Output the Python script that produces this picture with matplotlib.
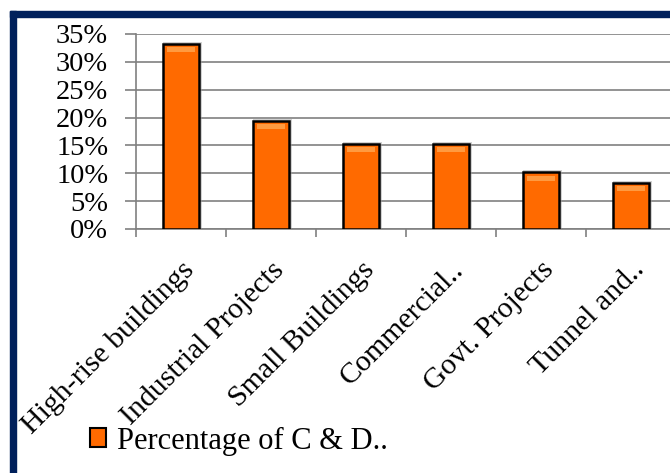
import matplotlib.pyplot as plt
import matplotlib.patches as mpatches
import numpy as np

plt.rcParams['font.family'] = ['Liberation Serif', 'DejaVu Serif']

# data
categories = ['High-rise buildings', 'Industrial Projects', 'Small Buildings',
              'Commercial..', 'Govt. Projects', 'Tunnel and..']
values = [33.2, 19.4, 15.3, 15.3, 10.2, 8.3]
yticks = [0, 5, 10, 15, 20, 25, 30, 35]
legend_label = 'Percentage of C & D..'

W, H = 670, 473
fig = plt.figure(figsize=(6.7, 4.73), dpi=100)

# navy frame on left and top
fig.patches.append(mpatches.Rectangle((10 / W, -0.1), 6 / W, 1 - 11 / H + 0.1,
                                      transform=fig.transFigure, color='#00205B', zorder=0))
fig.patches.append(mpatches.Rectangle((10 / W, 1 - 17 / H), 1.0, 6 / H,
                                      transform=fig.transFigure, color='#00205B', zorder=0))

# axes: left 136px, right 676px, bottom y=229, top y=34
ax = fig.add_axes([136 / W, 1 - 229 / H, 540 / W, 195 / H])
x = np.arange(len(categories))
# soft shadow behind bars
ax.bar(x + 0.015, np.array(values) + 0.35, width=0.44, color='#999999', alpha=0.45,
       linewidth=0, zorder=2)
bars = ax.bar(x, values, width=0.4, color='#FF6A00', edgecolor='black', linewidth=1.8, zorder=3)
# glossy highlight at top of bars
for b in bars:
    ax.bar(b.get_x() + b.get_width() / 2, 0.9, bottom=b.get_height() - 1.5, width=b.get_width() * 0.8,
           color='#FF9A40', linewidth=0, zorder=4)

ax.set_xlim(-0.5, len(categories) - 0.5)
ax.set_ylim(0, 35)
ax.set_yticks(yticks)
ax.set_yticklabels([f'{v}%' for v in yticks], fontsize=20.5)
ax.yaxis.grid(True, color='#808080', linewidth=1.2, zorder=0)
ax.set_axisbelow(True)
ax.tick_params(axis='y', length=8, color='#808080', width=1.2, pad=12)

ax.set_xticks(x)
ax.set_xticklabels(categories, rotation=45, ha='right', rotation_mode='anchor', fontsize=21.5)
ax.tick_params(axis='x', length=0, pad=20)
ax.set_xticks(np.arange(len(categories) + 1) - 0.5, minor=True)
ax.tick_params(axis='x', which='minor', length=6, color='#808080', width=1.2)

for s in ['top', 'right']:
    ax.spines[s].set_visible(False)
for s in ['left', 'bottom']:
    ax.spines[s].set_color('#808080')
    ax.spines[s].set_linewidth(1.2)

# legend
handle = mpatches.Patch(facecolor='#FF6A00', edgecolor='black', linewidth=1.5)
fig.legend([handle], [legend_label], loc='center left', bbox_to_anchor=(62 / W, 1 - 441 / H),
           frameon=False, fontsize=22, handlelength=0.55, handleheight=0.55, handletextpad=0.35)

plt.savefig('out.png', dpi=100)
